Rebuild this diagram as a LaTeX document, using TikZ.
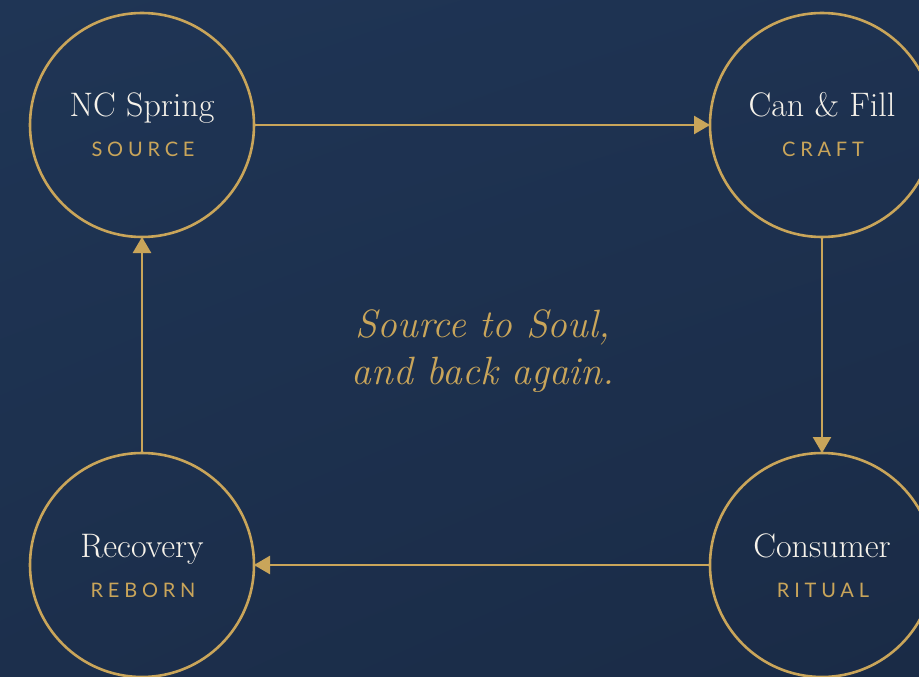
\documentclass[tikz,border=0pt]{standalone}
\usepackage{fontspec}
\usetikzlibrary{arrows.meta,shadings}
\newfontfamily\tagfont[LetterSpace=24]{Lato}
\definecolor{bgA}{HTML}{1F3555}
\definecolor{bgB}{HTML}{1E3251}
\definecolor{bgC}{HTML}{1C2F4C}
\definecolor{bgD}{HTML}{1A2B46}
\definecolor{gold}{HTML}{C9A55A}
\definecolor{ivory}{HTML}{F6F2EA}
\begin{document}
\begin{tikzpicture}[x=1pt,y=-1pt,
  stage/.style={circle,draw=gold,line width=2.6pt,minimum size=224pt,inner sep=0pt,outer sep=0pt},
  title/.style={anchor=base,text=ivory,font=\fontsize{34}{38}\selectfont,inner sep=0pt},
  tag/.style={anchor=base,text=gold,font=\tagfont\fontsize{20}{24}\selectfont,inner sep=0pt},
  flow/.style={draw=gold,line width=2.6pt,-{Triangle[length=16pt,width=18pt]}}]
\shade[upper left=bgA,upper right=bgB,lower left=bgC,lower right=bgD] (0,0) rectangle (919,677);
\useasboundingbox (0,0) rectangle (919,677);
\node[stage] (src) at (142,125) {};
\node[stage] (can) at (822,125) {};
\node[stage] (con) at (822,565) {};
\node[stage] (rec) at (142,565) {};
\node[title] (srcT) at (142,117) {NC Spring};
\node[tag] (srcL) at (143,157) {SOURCE};
\node[title] (canT) at (822,117) {Can \& Fill};
\node[tag] (canL) at (823,157) {CRAFT};
\node[title] (conT) at (822,557) {Consumer};
\node[tag] (conL) at (823,597) {RITUAL};
\node[title] (recT) at (142,557) {Recovery};
\node[tag] (recL) at (143,597) {REBORN};
\node[anchor=base,text=gold,inner sep=0pt,font=\itshape\fontsize{39.5}{47}\selectfont] (mot1) at (483,337) {Source to Soul,};
\node[anchor=base,text=gold,inner sep=0pt,font=\itshape\fontsize{39.5}{47}\selectfont] (mot2) at (483,384) {and back again.};
\draw[flow] (src.east) -- (can.west);
\draw[flow] (can.south) -- (con.north);
\draw[flow] (con.west) -- (rec.east);
\draw[flow] (rec.north) -- (src.south);
\end{tikzpicture}
\end{document}
